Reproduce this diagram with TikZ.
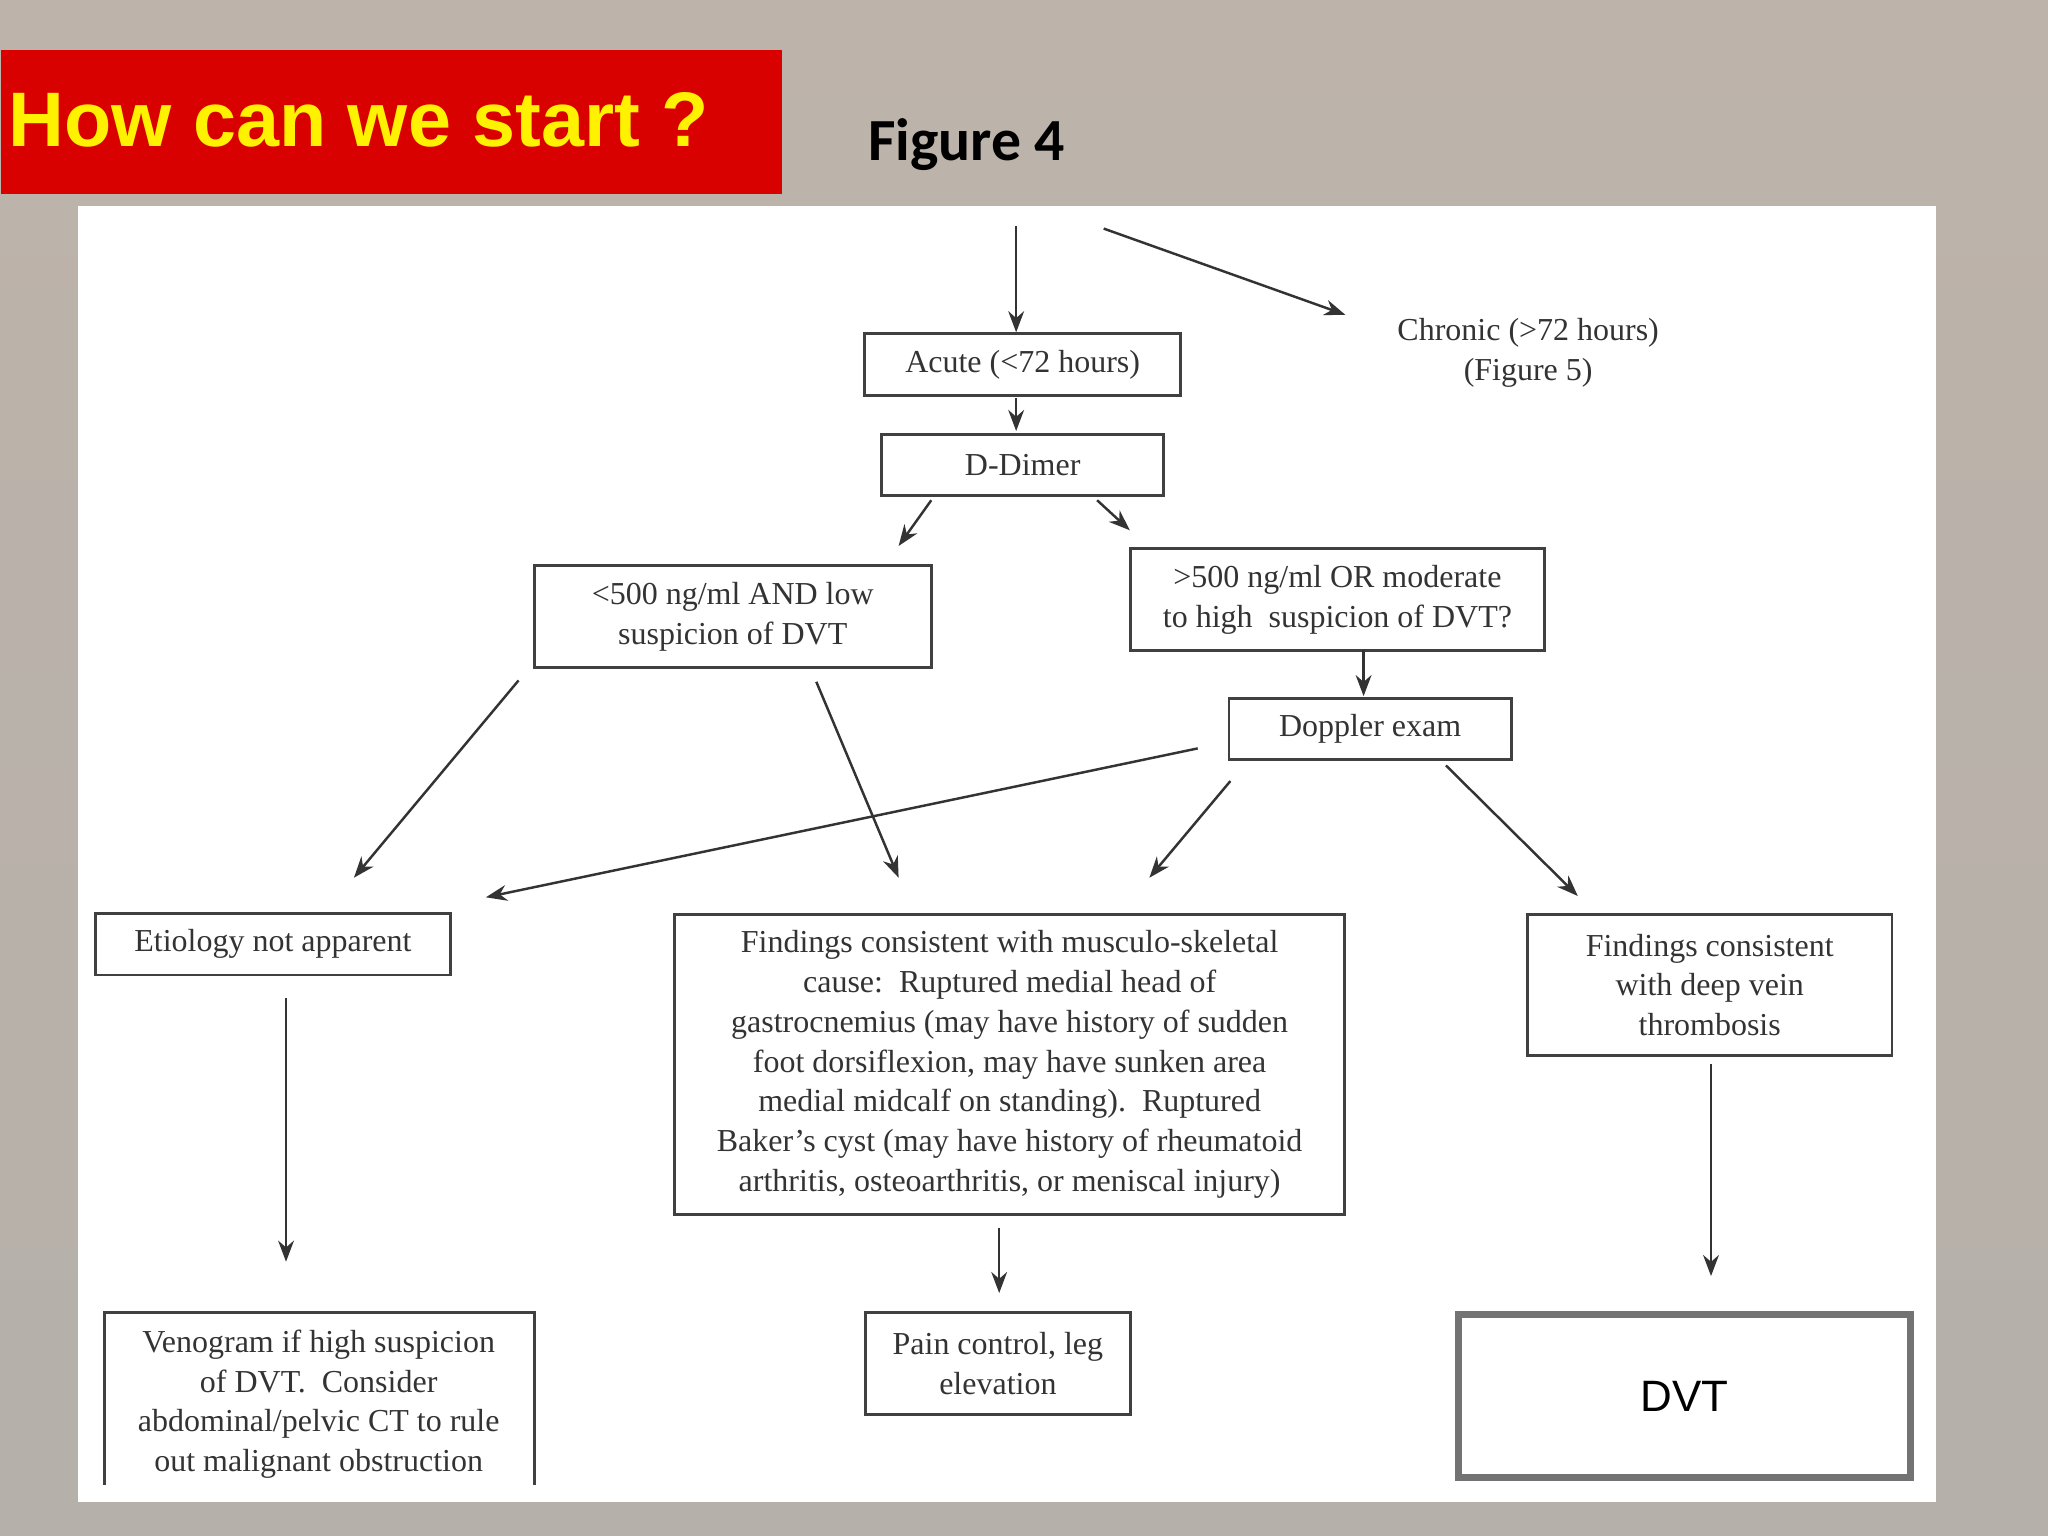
\documentclass[tikz,border=0pt]{standalone}
\usepackage{fontspec}
\setmainfont{Liberation Serif}
\newfontfamily\titlefont{Liberation Sans}
\newfontfamily\figfont{Carlito}
\usetikzlibrary{arrows.meta}
\def\u{0.013061cm}
\definecolor{bgtop}{HTML}{BDB3AA}
\definecolor{bgbot}{HTML}{B5B0AA}
\begin{document}
\begin{tikzpicture}[x=0.013061cm,y=-0.013061cm,
  box/.style={draw=black!75,line width=0.8pt,align=center,inner sep=0pt,
    font=\fontsize{9.1}{11.3}\selectfont,text=black!80},
  arr/.style={-{Stealth[length=6pt,width=4.5pt]},line width=0.7pt,black!80}]
\useasboundingbox (0,0) rectangle (1568,1176);
\shade[top color=bgtop, bottom color=bgbot] (0,0) rectangle (1568,1176);
\fill[white] (60,158) rectangle (1482,1150);
\node[fill=red!85!black,minimum width=598*\u,minimum height=110*\u,anchor=north west,inner sep=0pt] (banner) at (0,38) {};
\node[anchor=west,inner sep=0pt,text=yellow,font=\titlefont\bfseries\fontsize{22}{26}\selectfont] (title) at (6,92) {How can we start ?};
\node[font=\figfont\bfseries\fontsize{17}{20}\selectfont] (fig) at (740,111) {Figure 4};

\node[box,minimum width=242*\u,minimum height=47*\u] (acute) at (783,279) {Acute (<72 hours)};
\node[box,minimum width=216*\u,minimum height=47*\u] (dd) at (783,356) {D-Dimer};
\node[box,minimum width=304*\u,minimum height=78*\u] (low) at (561,472) {<500 ng/ml AND low\\suspicion of DVT};
\node[box,minimum width=317*\u,minimum height=78*\u] (high) at (1024,459) {>500 ng/ml OR moderate\\to high\ \ suspicion of DVT?};
\node[box,minimum width=216*\u,minimum height=47*\u] (dop) at (1049,558) {Doppler exam};
\node[box,minimum width=272*\u,minimum height=47*\u] (eti) at (209,723) {Etiology not apparent};
\node[box,minimum width=513*\u,minimum height=230*\u] (msk) at (773,815) {Findings consistent with musculo-skeletal\\cause:\ \ Ruptured medial head of\\gastrocnemius (may have history of sudden\\foot dorsiflexion, may have sunken area\\medial midcalf on standing).\ \ Ruptured\\Baker’s cyst (may have history of rheumatoid\\arthritis, osteoarthritis, or meniscal injury)};
\node[box,minimum width=279*\u,minimum height=108*\u] (fdvt) at (1309,754) {Findings consistent\\with deep vein\\thrombosis};
\node[box,draw=none,minimum width=329*\u,minimum height=130*\u] (veno) at (244,1075) {Venogram if high suspicion\\of DVT.\ \ Consider\\abdominal/pelvic CT to rule\\out malignant obstruction};
\draw[black!75,line width=0.8pt] (80,1137) -- (80,1005) -- (409,1005) -- (409,1137);
\node[box,minimum width=203*\u,minimum height=78*\u] (pain) at (764,1044) {Pain control, leg\\elevation};
\node[box,draw=black!55,line width=2pt,minimum width=346*\u,minimum height=125*\u,
  font=\titlefont\fontsize{12.5}{15}\selectfont,text=black] (dvt) at (1290,1069) {DVT};
\node[box,draw=none] (chr) at (1170,270) {Chronic (>72 hours)\\(Figure 5)};

\coordinate (s0) at (778,173); \coordinate (s1) at (845,175); \coordinate (t1) at (1030,241);
\draw[arr] (s0) -- (acute.north -| s0);
\draw[arr] (s1) -- (t1);
\draw[arr] (778,305) -- (778,330);
\draw[arr] (713,383) -- (688,418);
\draw[arr] (840,383) -- (865,406);
\draw[arr] (397,521) -- (271,672);
\draw[arr] (625,522) -- (688,672);
\draw[arr] (1044,498) -- (1044,533);
\draw[arr] (917,573) -- (372,687);
\draw[arr] (942,598) -- (880,672);
\draw[arr] (1107,586) -- (1208,686);
\draw[arr] (219,764) -- (219,966);
\draw[arr] (765,940) -- (765,990);
\draw[arr] (1310,815) -- (1310,977);
\end{tikzpicture}
\end{document}
